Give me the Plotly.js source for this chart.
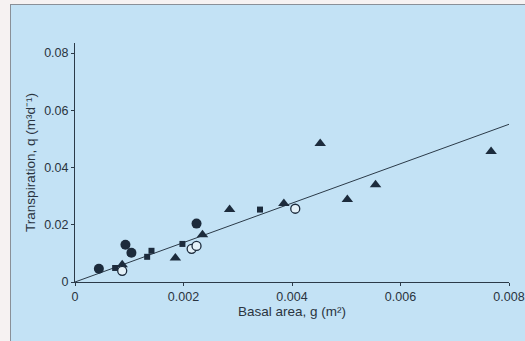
<!DOCTYPE html>
<html><head><meta charset="utf-8">
<script src="https://cdn.plot.ly/plotly-3.0.1.min.js"></script>
<style>
html,body{margin:0;padding:0;background:#f6f2f2;width:525px;height:341px;overflow:hidden;}
#frame{position:absolute;left:10px;top:4px;width:515px;height:337px;border-left:1px solid #8a9098;border-top:1px solid #8a9098;box-sizing:border-box;background:#c3e2f5;}
#plot{width:514px;height:336px;}
</style></head>
<body><div id="frame"><div id="plot"></div></div>
<script>
// Filled circles
const fcX = [0.00044, 0.00093, 0.00104, 0.00224];
const fcY = [0.0046, 0.0130, 0.0102, 0.0204];
// Open circles
const ocX = [0.00087, 0.00215, 0.00224, 0.00406];
const ocY = [0.0039, 0.0116, 0.0126, 0.0256];
// Filled squares
const sqX = [0.00074, 0.00133, 0.00141, 0.00198, 0.00341];
const sqY = [0.0049, 0.0088, 0.0109, 0.0133, 0.0253];
// Filled triangles
const trX = [0.00087, 0.00185, 0.00235, 0.00285, 0.00385, 0.00452, 0.00502, 0.00554, 0.00767];
const trY = [0.0060, 0.0084, 0.0165, 0.0253, 0.0274, 0.0484, 0.0288, 0.0340, 0.0456];
// Regression line
const lineX = [0, 0.008];
const lineY = [0, 0.0551];
const xTicks = [0, 0.002, 0.004, 0.006, 0.008];
const xTickText = ['0', '0.002', '0.004', '0.006', '0.008'];
const yTicks = [0, 0.02, 0.04, 0.06, 0.08];
const yTickText = ['0', '0.02', '0.04', '0.06', '0.08'];

const dark = '#1c2b3c';
const traces = [
  {x: lineX, y: lineY, mode: 'lines', line: {color: '#2b3a48', width: 1}, hoverinfo: 'skip'},
  {x: sqX, y: sqY, mode: 'markers', marker: {symbol: 'square', size: 6, color: dark}},
  {x: trX, y: trY, mode: 'markers', marker: {symbol: 'triangle-up', size: 10, color: dark}},
  {x: fcX, y: fcY, mode: 'markers', marker: {symbol: 'circle', size: 10, color: dark}},
  {x: ocX, y: ocY, mode: 'markers', marker: {symbol: 'circle', size: 9, color: '#e4f1f8', line: {color: dark, width: 1.3}}}
];
const tickFont = {family: 'Liberation Sans, Arial, sans-serif', size: 12.5, color: '#2a3440'};
const titleFont = {family: 'Liberation Sans, Arial, sans-serif', size: 13.5, color: '#2a3440'};
const layout = {
  width: 514, height: 336,
  margin: {l: 64, r: 16, t: 38, b: 59},
  paper_bgcolor: 'rgba(0,0,0,0)', plot_bgcolor: 'rgba(0,0,0,0)',
  showlegend: false, font: tickFont,
  xaxis: {range: [0, 0.008], tickvals: xTicks, ticktext: xTickText, showgrid: false, zeroline: false,
    showline: true, linecolor: '#2b3a48', linewidth: 1, ticks: 'outside', ticklen: 3, tickcolor: '#2b3a48',
    tickfont: tickFont,
    title: {text: 'Basal area, g (m²)', font: titleFont, standoff: 2}},
  yaxis: {range: [0, 0.0835], tickvals: yTicks, ticktext: yTickText, showgrid: false, zeroline: false,
    showline: true, linecolor: '#2b3a48', linewidth: 1, ticks: 'outside', ticklen: 3, tickcolor: '#2b3a48',
    tickfont: tickFont,
    title: {text: 'Transpiration, q (m³d⁻¹)', font: titleFont, standoff: 5}}
};
Plotly.newPlot('plot', traces, layout, {staticPlot: true});
</script></body></html>
